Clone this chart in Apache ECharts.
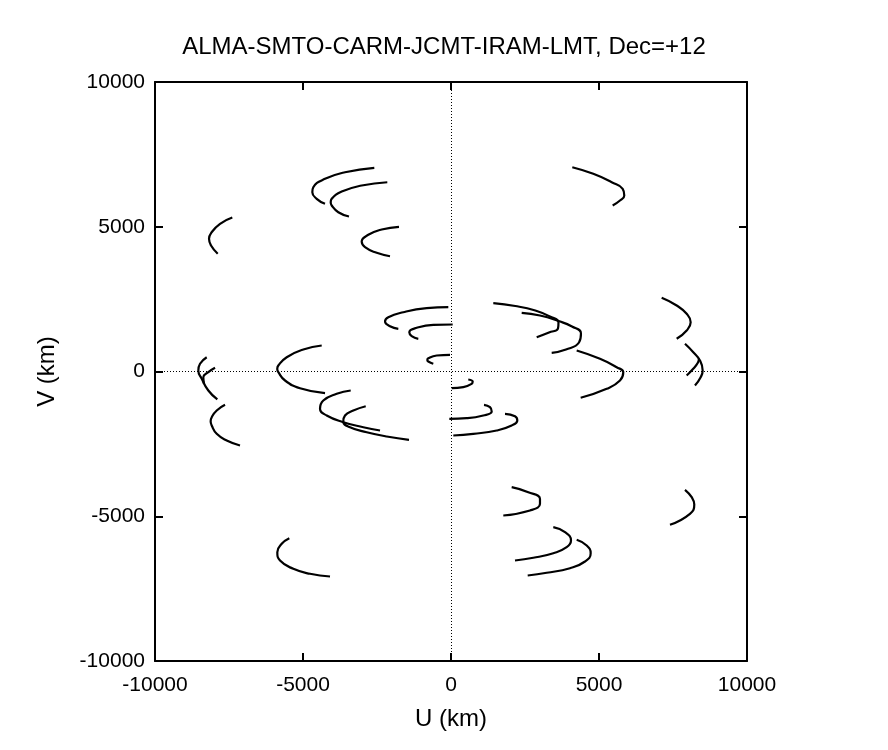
<!DOCTYPE html>
<html>
<head>
<meta charset="utf-8">
<script src="https://cdn.jsdelivr.net/npm/echarts@6/dist/echarts.min.js"></script>
<style>
html,body{margin:0;padding:0;background:#fff;}
#chart{width:888px;height:750px;}
</style>
</head>
<body>
<div id="chart"></div>
<script>
// Title and axis text
const chartTitle = 'ALMA-SMTO-CARM-JCMT-IRAM-LMT, Dec=+12';
const xName = 'U (km)';
const yName = 'V (km)';
const xTicks = [-10000, -5000, 0, 5000, 10000];
const yTicks = [-10000, -5000, 0, 5000, 10000];

// UV tracks, [u, v] in km
const arcA  = [[-2591,7036],[-3581,6884],[-4256,6656],[-4652,6366],[-4685,6193],[-4537,5965],[-4256,5792]];
const arcA2 = [[4246,-5813],[4584,-6010],[4719,-6276],[4527,-6563],[4020,-6794],[3233,-6953],[2591,-7046]];
const arcB  = [[-2152,6538],[-3017,6424],[-3692,6217],[-4030,5965],[-4064,5848],[-4030,5734],[-3807,5502],[-3446,5354]];
const arcB2 = [[3456,-5378],[3851,-5551],[4054,-5837],[3908,-6069],[3456,-6276],[2780,-6435],[2162,-6528]];
const arcC  = [[-7388,5319],[-7803,5102],[-8084,4811],[-8175,4584],[-8107,4352],[-7881,4065]];
const arcC2 = [[7905,-4086],[8131,-4342],[8219,-4594],[8073,-4915],[7398,-5295]];
const arcD  = [[-1757,4998],[-2341,4905],[-2794,4722],[-3017,4490],[-2905,4293],[-2510,4100],[-2061,3982]];
const arcD2 = [[2050,-3996],[2611,-4169],[3006,-4397],[3006,-4570],[2669,-4801],[1767,-4974]];
const arcE  = [[-91,2221],[-821,2186],[-1611,2048],[-2118,1876],[-2229,1727],[-2061,1565],[-1780,1475]];
const arcE2 = [[78,-2211],[753,-2152],[1544,-2038],[2050,-1865],[2240,-1692],[2162,-1544],[1824,-1461]];
const arcF  = [[57,1623],[-598,1613],[-1159,1509],[-1409,1357],[-1328,1219],[-1105,1129]];
const arcF2 = [[-57,-1634],[530,-1613],[1091,-1520],[1375,-1382],[1317,-1233],[1115,-1150]];
const arcG  = [[-34,577],[-483,553],[-767,459],[-800,400],[-767,345],[-598,266]];
const arcG2 = [[24,-577],[415,-542],[699,-425],[733,-345],[584,-276]];
const arcH  = [[-4368,898],[-4989,760],[-5550,494],[-5834,207],[-5870,90],[-5834,-24],[-5607,-311],[-5101,-577],[-4256,-750]];
const arcH2 = [[4246,725],[5033,439],[5597,149],[5820,-24],[5709,-311],[5260,-598],[4381,-908]];
const arcK  = [[4098,7057],[4807,6829],[5429,6538],[5800,6311],[5854,6079],[5709,5906],[5462,5734]];
const arcK2 = [[-5462,-5758],[-5719,-5951],[-5868,-6241],[-5776,-6528],[-5327,-6815],[-4763,-6987],[-4087,-7081]];
const arcP  = [[1429,2359],[2172,2262],[2848,2107],[3344,1900],[3631,1692],[3614,1485],[3310,1347],[2895,1185]];
const arcP2 = [[-2881,-1199],[-3300,-1347],[-3581,-1520],[-3638,-1727],[-3412,-1924],[-2848,-2097],[-2172,-2245],[-1419,-2359]];
const arcQ  = [[2388,2027],[3006,1934],[3631,1744],[4087,1554],[4391,1313],[4324,1002],[3885,760],[3402,646]];
const arcQ2 = [[-3388,-656],[-3861,-770],[-4314,-1002],[-4425,-1288],[-4199,-1520],[-3638,-1751],[-2963,-1924],[-2398,-2038]];
const arcR  = [[7117,2546],[7624,2280],[7962,1993],[8097,1703],[7962,1416],[7624,1129]];
const arcR2 = [[-7634,-1150],[-7915,-1347],[-8084,-1578],[-8120,-1720],[-8084,-1865],[-7915,-2152],[-7577,-2383],[-7128,-2556]];
const arcS  = [[7905,957],[8185,667],[8411,380],[8502,35],[8435,-197],[8242,-484]];
const arcS2 = [[-8253,494],[-8479,266],[-8536,35],[-8421,-252],[-8198,-656],[-7894,-967]];
const arcT  = [[7962,-138],[8175,86],[8344,311],[8377,449]];
const arcT2 = [[-7972,128],[-8198,-24],[-8367,-197],[-8344,-425]];

const tracks = [arcA,arcA2,arcB,arcB2,arcC,arcC2,arcD,arcD2,arcE,arcE2,arcF,arcF2,arcG,arcG2,
  arcH,arcH2,arcK,arcK2,arcP,arcP2,arcQ,arcQ2,arcR,arcR2,arcS,arcS2,arcT,arcT2];

const FONT = '"Liberation Sans", Arial, Helvetica, sans-serif';
const chart = echarts.init(document.getElementById('chart'), null, {renderer:'canvas'});

function axisBase(extra){
  return Object.assign({
    type:'value', min:-10000, max:10000, interval:5000,
    axisLine:{show:true, onZero:false, lineStyle:{color:'#000', width:2}},
    axisTick:{show:true, inside:true, length:8, lineStyle:{color:'#000', width:2}},
    splitLine:{show:false},
    axisLabel:{show:false}
  }, extra);
}

const series = tracks.map((t,i)=>({
  type:'line', data:t, smooth:0.5, showSymbol:false, symbol:'none',
  xAxisIndex:0, yAxisIndex:0,
  lineStyle:{color:'#000', width:2.2}, z:3,
  silent:true
}));
series[0].markLine = {
  silent:true, symbol:'none', label:{show:false},
  lineStyle:{color:'#000', width:1, type:[1,2]},
  data:[{xAxis:0},{yAxis:0}]
};

chart.setOption({
  animation:false,
  backgroundColor:'#fff',
  title:{text:chartTitle, left:'center', top:30,
    textStyle:{fontFamily:FONT, fontSize:24, fontWeight:'normal', color:'#000'}},
  grid:{left:155, right:141, top:82, bottom:89, containLabel:false},
  xAxis:[
    axisBase({position:'bottom', name:xName, nameLocation:'middle', nameGap:46,
      nameTextStyle:{fontFamily:FONT, fontSize:24, color:'#000'},
      axisLabel:{show:true, margin:14, fontFamily:FONT, fontSize:21, color:'#000',
        formatter:v=>xTicks.includes(v)?String(v):''}}),
    axisBase({position:'top'})
  ],
  yAxis:[
    axisBase({position:'left', name:yName, nameLocation:'middle', nameGap:96, nameRotate:90,
      nameTextStyle:{fontFamily:FONT, fontSize:24, color:'#000'},
      axisLabel:{show:true, margin:10, fontFamily:FONT, fontSize:21, color:'#000',
        formatter:v=>yTicks.includes(v)?String(v):''}}),
    axisBase({position:'right'})
  ],
  series:series
});
</script>
</body>
</html>
